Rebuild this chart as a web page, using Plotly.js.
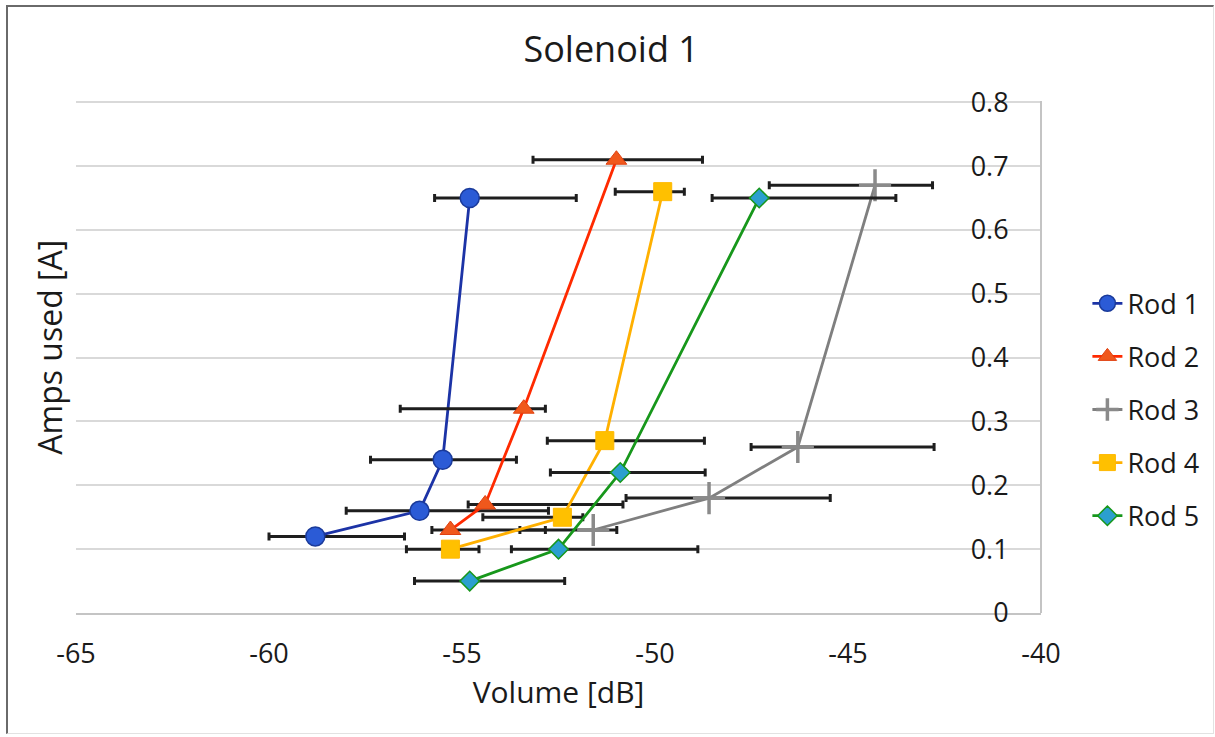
<!DOCTYPE html>
<html>
<head>
<meta charset="utf-8">
<script src="https://cdn.plot.ly/plotly-3.0.1.min.js"></script>
<style>
  html, body { margin: 0; padding: 0; background: #ffffff; }
  #wrap { position: relative; width: 1215px; height: 737px; }
  #chart { position: absolute; left: 0; top: 0; width: 1215px; height: 737px; }
  #frame { position: absolute; left: 6px; top: 5px; width: 1205px; height: 726px;
           border-top: 2px solid #6a6a6a; border-left: 2px solid #6a6a6a;
           border-right: 1px solid #e2e2e2; border-bottom: 1px solid #e2e2e2;
           pointer-events: none; }
</style>
</head>
<body>
<div id="wrap">
  <div id="chart"></div>
  <div id="frame"></div>
</div>
<script>
// ---- data ----
const seriesNames = ["Rod 1", "Rod 2", "Rod 3", "Rod 4", "Rod 5"];

const rod1X = [-58.8, -56.1, -55.5, -54.8];
const rod1Y = [0.12, 0.16, 0.24, 0.65];
const rod1ErrMinus = [1.2, 1.9, 1.87, 0.91];
const rod1ErrPlus  = [2.31, 3.34, 1.91, 2.76];

const rod2X = [-55.3, -54.4, -53.4, -51.0];
const rod2Y = [0.13, 0.17, 0.32, 0.71];
const rod2ErrMinus = [0.48, 0.44, 3.2, 2.16];
const rod2ErrPlus  = [2.46, 3.57, 0.56, 2.23];

const rod3X = [-51.6, -48.6, -46.3, -44.3];
const rod3Y = [0.13, 0.18, 0.26, 0.67];
const rod3ErrMinus = [1.9, 2.15, 1.21, 2.74];
const rod3ErrPlus  = [0.61, 3.14, 3.53, 1.49];

const rod4X = [-55.3, -52.4, -51.3, -49.8];
const rod4Y = [0.10, 0.15, 0.27, 0.66];
const rod4ErrMinus = [1.14, 2.06, 1.49, 1.23];
const rod4ErrPlus  = [0.74, 0.53, 2.58, 0.56];

const rod5X = [-54.8, -52.5, -50.9, -47.3];
const rod5Y = [0.05, 0.10, 0.22, 0.65];
const rod5ErrMinus = [1.43, 1.22, 1.81, 1.22];
const rod5ErrPlus  = [2.46, 3.61, 2.2, 3.54];

const xTickVals = [-65, -60, -55, -50, -45, -40];
const yTickVals = [0, 0.1, 0.2, 0.3, 0.4, 0.5, 0.6, 0.7, 0.8];

// ---- styling ----
const FONT = "Open Sans, Noto Sans, sans-serif";
const TXT = "#1a1a1a";
const errStyle = (plus, minus) => ({
  type: "data", symmetric: false, array: plus, arrayminus: minus,
  color: "#1e1e1e", thickness: 3, width: 4, visible: true
});

function mk(name, x, y, em, ep, lineColor, marker, i) {
  return {
    type: "scatter", mode: "lines+markers", name: name,
    x: x, y: y, legendgroup: "g" + i,
    line: { color: lineColor, width: 2.8 },
    marker: marker,
    error_x: errStyle(ep, em)
  };
}

const traces = [
  mk(seriesNames[0], rod1X, rod1Y, rod1ErrMinus, rod1ErrPlus, "#1c33a6",
     { symbol: "circle", size: 19, color: "#2b5bd6", line: { color: "#1a3a9a", width: 1.5 } }, 1),
  mk(seriesNames[1], rod2X, rod2Y, rod2ErrMinus, rod2ErrPlus, "#ff2a00",
     { symbol: "triangle-up", size: 18, color: "#f0581c", line: { color: "#e04010", width: 1 } }, 2),
  mk(seriesNames[2], rod3X, rod3Y, rod3ErrMinus, rod3ErrPlus, "#7f7f7f",
     { symbol: "cross-thin", size: 23, color: "#8a8a8a", line: { color: "#8a8a8a", width: 3.5 } }, 3),
  mk(seriesNames[3], rod4X, rod4Y, rod4ErrMinus, rod4ErrPlus, "#ffb000",
     { symbol: "square", size: 18, color: "#ffc000", line: { color: "#ffb800", width: 1 } }, 4),
  mk(seriesNames[4], rod5X, rod5Y, rod5ErrMinus, rod5ErrPlus, "#17971b",
     { symbol: "diamond", size: 15, color: "#2b9fcf", line: { color: "#17971b", width: 1.5 } }, 5)
];

const layout = {
  width: 1215, height: 737,
  paper_bgcolor: "#ffffff", plot_bgcolor: "#ffffff",
  margin: { l: 76, r: 173, t: 101, b: 124 },
  font: { family: FONT, color: TXT, size: 26 },
  showlegend: true,
  title: {
    text: "Solenoid 1", font: { family: FONT, size: 36, color: TXT },
    xref: "container", x: 0.503, xanchor: "center",
    yref: "container", y: 0.933, yanchor: "middle"
  },
  xaxis: {
    range: [-65, -40], tickvals: xTickVals, ticktext: xTickVals.map(String),
    showgrid: false, zeroline: false,
    showline: true, linecolor: "#c4c4c4", linewidth: 2,
    ticks: "", ticklabelstandoff: 16,
    tickfont: { family: FONT, size: 27, color: TXT },
    title: { text: "Volume [dB]", font: { family: FONT, size: 30, color: TXT }, standoff: 4 }
  },
  yaxis: {
    range: [0, 0.802], tickvals: yTickVals, ticktext: yTickVals.map(String),
    side: "left", anchor: "free", position: 1,
    ticklabelposition: "outside", ticklabelstandoff: 26,
    showgrid: true, gridcolor: "#d9d9d9", gridwidth: 2,
    zeroline: false, showline: true, linecolor: "#c4c4c4", linewidth: 2,
    ticks: "",
    tickfont: { family: FONT, size: 27, color: TXT }
  },
  legend: {
    x: 1.047, xanchor: "left", y: 0.397, yanchor: "middle",
    font: { family: FONT, size: 27, color: TXT },
    tracegroupgap: 15, itemwidth: 30, bgcolor: "rgba(0,0,0,0)"
  },
  annotations: [{
    text: "Amps used [A]", textangle: -90,
    xref: "paper", yref: "paper", x: -0.027, y: 0.52,
    xanchor: "center", yanchor: "middle", showarrow: false,
    font: { family: FONT, size: 32, color: TXT }
  }]
};

Plotly.newPlot("chart", traces, layout, { displayModeBar: false, staticPlot: true });
</script>
</body>
</html>
